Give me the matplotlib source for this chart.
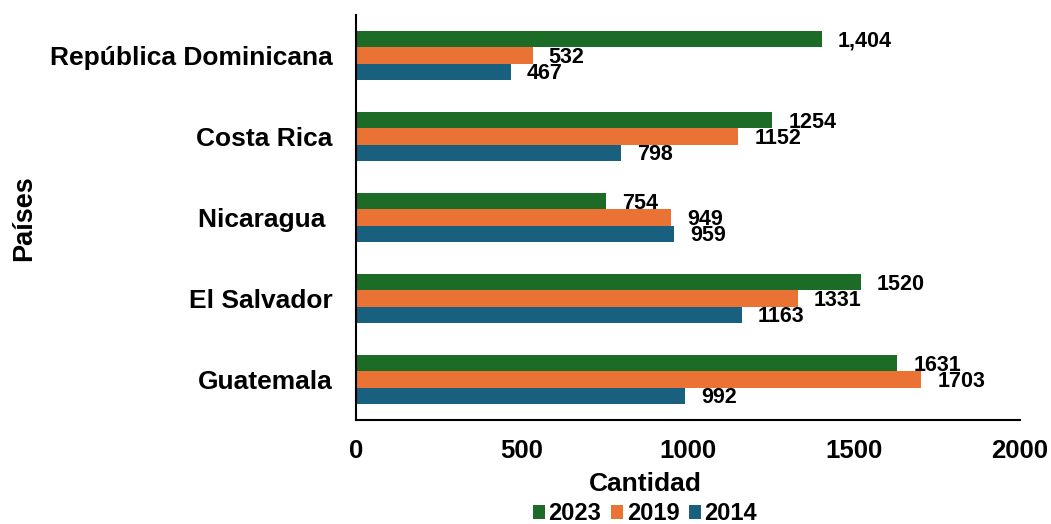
import matplotlib
matplotlib.use("Agg")
import matplotlib.pyplot as plt
import numpy as np
from matplotlib.patches import Patch

countries = ["Guatemala", "El Salvador", "Nicaragua ", "Costa Rica", "República Dominicana"]
years = ["2023", "2019", "2014"]
v2023 = [1631, 1520, 754, 1254, 1404]
v2019 = [1703, 1331, 949, 1152, 532]
v2014 = [992, 1163, 959, 798, 467]
labels2023 = ["1631", "1520", "754", "1254", "1,404"]
labels2019 = ["1703", "1331", "949", "1152", "532"]
labels2014 = ["992", "1163", "959", "798", "467"]
xticks = [0, 500, 1000, 1500, 2000]

colors = ["#1C6B26", "#E97234", "#19607F"]
FAM = "Liberation Sans"

fig = plt.figure(figsize=(10.51, 5.24), dpi=100)
ax = fig.add_axes([356 / 1051, 1 - 420 / 524, 664 / 1051, 405 / 524])

y = np.arange(len(countries))
h = 0.2
series = [(v2023, labels2023), (v2019, labels2019), (v2014, labels2014)]
offsets = [h, 0, -h]
for (vals, labs), off, col in zip(series, offsets, colors):
    bars = ax.barh(y + off, vals, height=h, color=col, edgecolor="none")
    for b, lab in zip(bars, labs):
        ax.annotate(lab, xy=(b.get_width(), b.get_y() + b.get_height() / 2),
                    xytext=(11.5, -1.5), textcoords="offset points",
                    ha="left", va="center", color="black",
                    family=FAM, weight="bold", size=15.5)

ax.set_xlim(0, 2000)
ax.set_ylim(-0.5, 4.5)
ax.set_xticks(xticks)
ax.set_xticklabels([str(t) for t in xticks], family=FAM, weight="bold", size=18.5)
ax.set_yticks(y)
ax.set_yticklabels(countries, family=FAM, weight="bold", size=19)
ax.tick_params(axis="both", length=0)
ax.tick_params(axis="y", pad=17)
ax.tick_params(axis="x", pad=14)

for s in ["top", "right"]:
    ax.spines[s].set_visible(False)
for s in ["left", "bottom"]:
    ax.spines[s].set_color("black")
    ax.spines[s].set_linewidth(1.5)

ax.set_xlabel("Cantidad", family=FAM, weight="bold", size=19)
ax.xaxis.label.set_va("center")
ax.xaxis.set_label_coords((645 - 356) / 664, (420 - 484) / 405)
ax.set_ylabel("Países", family=FAM, weight="bold", size=19.5)
ax.yaxis.label.set_va("center")
ax.yaxis.set_label_coords((24 - 356) / 664, (420 - 218) / 405)

handles = [Patch(facecolor=c, edgecolor="none") for c in colors]
fig.legend(handles, years, loc="center", bbox_to_anchor=(645 / 1051, 1 - 514 / 524),
           ncol=3, frameon=False, handlelength=0.52, handleheight=0.52,
           handletextpad=0.15, columnspacing=0.4, borderpad=0,
           prop=dict(family=FAM, weight="bold", size=17))

fig.savefig("out.png", dpi=100)
